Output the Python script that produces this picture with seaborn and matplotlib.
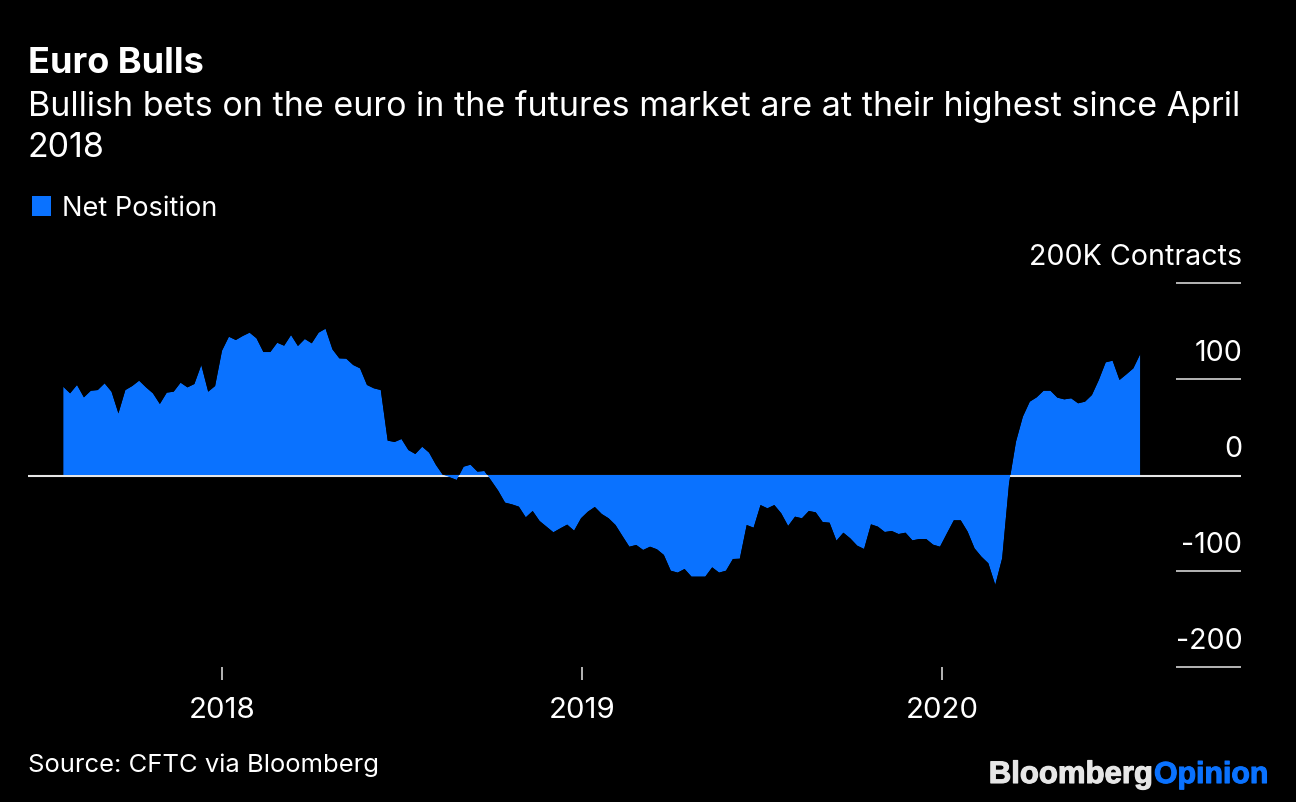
# Euro net position chart, weekly CFTC data
import matplotlib
matplotlib.use('Agg')
import matplotlib.pyplot as plt
import matplotlib.dates as mdates
import matplotlib.patheffects as pe
from matplotlib.patches import Patch
import pandas as pd
import seaborn as sns
import seaborn.objects as so

net_position = [
    92.0, 85.1, 93.8, 80.9, 87.8, 88.5, 95.5, 86.8, 64.2, 88.5, 92.7, 98.3, 91.3, 85.1,
    74.0, 85.8, 86.8, 96.2, 91.3, 94.8, 114.6, 86.8, 92.7, 129.5, 144.1, 140.6, 144.8, 148.3,
    142.4, 128.1, 128.1, 137.8, 134.7, 145.8, 134.4, 141.7, 137.2, 148.3, 152.4, 130.9, 121.5, 121.2,
    114.6, 111.1, 93.8, 90.3, 88.5, 35.8, 34.4, 37.5, 26.0, 21.9, 29.5, 23.3, 10.4, 0.0,
    -2.4, -5.2, 8.7, 10.8, 3.5, 4.2, -5.9, -16.3, -28.8, -30.6, -33.0, -44.1, -37.5, -47.9,
    -53.8, -59.7, -55.6, -51.7, -58.0, -45.1, -38.2, -33.3, -40.6, -45.1, -52.1, -63.5, -74.7, -72.9,
    -78.1, -74.7, -77.4, -83.3, -99.7, -101.7, -97.9, -105.9, -105.9, -105.9, -96.2, -101.7, -99.7, -87.5,
    -87.2, -52.1, -54.9, -31.3, -34.7, -31.3, -39.9, -53.1, -43.4, -45.1, -37.5, -38.9, -49.0, -49.7,
    -68.4, -60.1, -66.0, -73.6, -77.1, -51.4, -53.8, -59.4, -58.3, -61.5, -60.1, -68.1, -66.7, -66.7,
    -72.6, -74.7, -60.8, -47.2, -47.2, -59.0, -76.4, -85.1, -92.0, -114.5, -86.8, -8.7, 34.7, 60.8,
    76.4, 80.9, 87.8, 87.8, 80.6, 78.8, 79.9, 74.7, 76.4, 83.3, 99.0, 117.4, 119.1, 99.0,
    104.9, 111.1, 126.0,
]
y_ticks = [200, 100, 0, -100, -200]
y_labels = ['200K Contracts', '100', '0', '-100', '-200']
x_years = ['2018', '2019', '2020']

BLUE = '#0A72FF'
GREY = '#E6E6E6'
W, H = 1296, 802

sns.set_theme(style='dark', rc={
    'figure.facecolor': 'black', 'axes.facecolor': 'black', 'savefig.facecolor': 'black',
    'text.color': 'white', 'xtick.color': GREY, 'ytick.color': GREY,
    'xtick.labelcolor': 'white',
})
plt.rcParams['font.family'] = ['Inter', 'Liberation Sans', 'DejaVu Sans']

df = pd.DataFrame({
    'date': pd.date_range('2017-07-24', periods=len(net_position), freq='7D'),
    'net': net_position,
})

fig = plt.figure(figsize=(W / 100, H / 100), dpi=100)
ax = fig.add_axes([28 / W, 1 - 667 / H, (1241 - 28) / W, (667 - 283) / H])

ax.axhline(-0.7, color=GREY, lw=1.5, zorder=1)
(so.Plot(df, x='date', y='net')
    .add(so.Area(color=BLUE, alpha=1, edgewidth=0))
    .on(ax)
    .plot())

day_px = 365 / 360
x0 = pd.Timestamp('2018-01-01') - pd.Timedelta(days=(222 - 28) * day_px)
x1 = pd.Timestamp('2020-01-01') + pd.Timedelta(days=(1241 - 942) * day_px)
ax.set_xlim(x0, x1)
ax.set_ylim(-200, 200)
ax.set_xlabel('')
ax.set_ylabel('')
for s in ax.spines.values():
    s.set_visible(False)
ax.grid(False)

ax.set_xticks([pd.Timestamp(y + '-01-01') for y in x_years])
ax.xaxis.set_major_formatter(mdates.DateFormatter('%Y'))
ax.tick_params(axis='x', direction='out', bottom=True, length=9, width=1.1, pad=12.5, labelsize=21.2)

# short rules on the right, with the labels sitting above them
ax.yaxis.tick_right()
ax.set_yticks([v for v in y_ticks if v != 0])
ax.tick_params(axis='y', direction='in', right=True, length=47, width=1.1, labelright=False)
for v, lab in zip(y_ticks, y_labels):
    ax.annotate(lab, (1, v), xycoords=('axes fraction', 'data'), xytext=(1, 13),
                textcoords='offset points', ha='right', va='baseline', fontsize=20.6,
                annotation_clip=False)

fig.text(28 / W, 1 - 73 / H, 'Euro Bulls', fontsize=26, fontweight='bold', va='baseline')
fig.text(28 / W, 1 - 116 / H, 'Bullish bets on the euro in the futures market are at their highest since April',
         fontsize=24.5, va='baseline')
fig.text(28 / W, 1 - 157 / H, '2018', fontsize=24.5, va='baseline')

fig.legend(handles=[Patch(facecolor=BLUE, edgecolor='none', lw=0, label='Net Position')], loc='upper left',
           bbox_to_anchor=(32 / W, 1 - 195.5 / H), frameon=False, fontsize=19.6, borderpad=0, borderaxespad=0,
           handlelength=0.7, handleheight=0.7, handletextpad=0.4, labelcolor='white')

fig.text(28 / W, 1 - 772 / H, 'Source: CFTC via Bloomberg', fontsize=18.45, va='baseline')
t1 = fig.text(1153 / W, 1 - 783 / H, 'Bloomberg', fontsize=22.4, fontweight='bold', color=GREY,
              family='Liberation Sans', ha='right', va='baseline')
t2 = fig.text(1154 / W, 1 - 783 / H, 'Opinion', fontsize=21.8, fontweight='bold', color=BLUE,
              family='Liberation Sans', ha='left', va='baseline')
t1.set_path_effects([pe.withStroke(linewidth=0.8, foreground=GREY)])
t2.set_path_effects([pe.withStroke(linewidth=0.8, foreground=BLUE)])

fig.savefig('out.png', dpi=100)
